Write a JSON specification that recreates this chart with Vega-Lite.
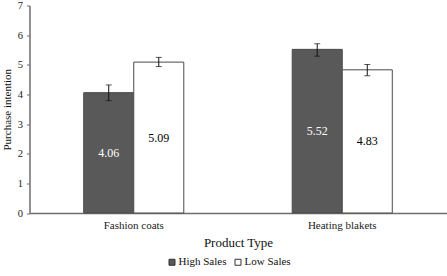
{
  "$schema": "https://vega.github.io/schema/vega-lite/v6.json",
  "width": 417,
  "height": 207.5,
  "autosize": {"type": "none"},
  "padding": {"left": 29.5, "top": 5.5, "right": 0, "bottom": 63},
  "background": "white",
  "config": {
    "font": "Liberation Serif",
    "view": {"stroke": null},
    "axis": {"labelFont": "Liberation Serif", "titleFont": "Liberation Serif", "titleFontWeight": "normal", "labelColor": "#222", "titleColor": "#111", "domainColor": "#6e6e6e", "tickColor": "#6e6e6e", "grid": false, "labelOverlap": false},
    "axisY": {"tickCount": 7, "labelOverlap": false, "tickSize": 3, "labelPadding": 4, "labelFontSize": 10.5, "titleFontSize": 11, "titlePadding": 5, "domainWidth": 1.5}
  },
  "data": {
    "values": [
      {"product": "Fashion coats", "sales": "High Sales", "mean": 4.06, "lo": 3.79, "hi": 4.32},
      {"product": "Fashion coats", "sales": "Low Sales", "mean": 5.09, "lo": 4.94, "hi": 5.25},
      {"product": "Heating blakets", "sales": "High Sales", "mean": 5.52, "lo": 5.29, "hi": 5.71},
      {"product": "Heating blakets", "sales": "Low Sales", "mean": 4.83, "lo": 4.63, "hi": 5.01}
    ]
  },
  "encoding": {
    "x": {
      "field": "product", "type": "nominal",
      "scale": {"paddingInner": 0.52, "paddingOuter": 0.26},
      "axis": {"title": "Product Type", "labelAngle": 0, "ticks": false, "labelPadding": 6, "labelFontSize": 11, "titleFontSize": 13, "titlePadding": 6, "domainWidth": 1.5}
    },
    "xOffset": {"field": "sales", "type": "nominal", "scale": {"paddingInner": 0, "paddingOuter": 0}}
  },
  "layer": [
    {
      "mark": {"type": "bar", "stroke": "#4a4a4a", "strokeWidth": 1},
      "encoding": {
        "y": {
          "field": "mean", "type": "quantitative",
          "scale": {"domain": [0, 7], "nice": false},
          "axis": {"title": "Purchase intention", "tickCount": 7, "labelOverlap": false}
        },
        "color": {
          "field": "sales", "type": "nominal",
          "scale": {"domain": ["High Sales", "Low Sales"], "range": ["#595959", "#ffffff"]},
          "legend": {
            "title": null, "orient": "none", "direction": "horizontal",
            "legendX": 137, "legendY": 251,
            "symbolType": "square", "symbolSize": 36, "symbolStrokeColor": "#333", "symbolStrokeWidth": 1,
            "labelFontSize": 11, "labelFont": "Liberation Serif", "labelColor": "#111",
            "labelOffset": 1, "columnPadding": 6
          }
        }
      }
    },
    {
      "mark": {"type": "rule", "color": "#111", "strokeWidth": 1},
      "encoding": {
        "y": {"field": "lo", "type": "quantitative", "axis": {"title": "Purchase intention", "tickCount": 7, "labelOverlap": false}},
        "y2": {"field": "hi"}
      }
    },
    {
      "mark": {"type": "tick", "color": "#111", "thickness": 1, "size": 6, "orient": "horizontal"},
      "encoding": {"y": {"field": "lo", "type": "quantitative", "axis": {"title": "Purchase intention", "tickCount": 7, "labelOverlap": false}}}
    },
    {
      "mark": {"type": "tick", "color": "#111", "thickness": 1, "size": 6, "orient": "horizontal"},
      "encoding": {"y": {"field": "hi", "type": "quantitative", "axis": {"title": "Purchase intention", "tickCount": 7, "labelOverlap": false}}}
    },
    {
      "transform": [{"calculate": "datum.mean / 2", "as": "mid"}],
      "mark": {"type": "text", "fontSize": 12, "font": "Liberation Serif", "baseline": "middle"},
      "encoding": {
        "y": {"field": "mid", "type": "quantitative", "axis": {"title": "Purchase intention", "tickCount": 7, "labelOverlap": false}},
        "text": {"field": "mean", "type": "quantitative", "format": ".2f"},
        "color": {"condition": {"test": "datum.sales === 'High Sales'", "value": "#ffffff"}, "value": "#000000"}
      }
    }
  ]
}
